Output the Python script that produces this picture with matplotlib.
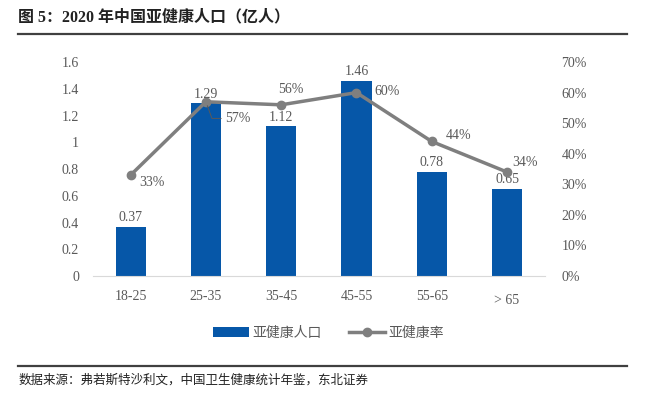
import matplotlib
matplotlib.use("Agg")
import matplotlib.pyplot as plt
import numpy as np

categories = ['18-25', '25-35', '35-45', '45-55', '55-65', '> 65']
population = [0.37, 1.29, 1.12, 1.46, 0.78, 0.65]
rate = [0.33, 0.57, 0.56, 0.60, 0.44, 0.34]
rate_labels = ['33%', '57%', '56%', '60%', '44%', '34%']
left_ticks = [0, 0.2, 0.4, 0.6, 0.8, 1, 1.2, 1.4, 1.6]
left_ticklabels = ['0', '0.2', '0.4', '0.6', '0.8', '1', '1.2', '1.4', '1.6']
right_ticks = [0, 0.1, 0.2, 0.3, 0.4, 0.5, 0.6, 0.7]

serif = ['Liberation Serif', 'Noto Sans CJK SC']
sans = ['Noto Sans CJK SC', 'DejaVu Sans']
bar_color = '#0657a8'
line_color = '#7f7f7f'
text_color = '#595959'

fig = plt.figure(figsize=(6.5, 3.94), dpi=100)
ax = fig.add_axes([0.143, 0.2995, 0.695, 0.5431])
x = np.arange(len(categories))

bars = ax.bar(x, population, width=0.4, color=bar_color, label='亚健康人口', zorder=2)
ax.set_xlim(-0.5, 5.5)
ax.set_ylim(0, 1.6)
ax.set_yticks(left_ticks)
ax.set_yticklabels(left_ticklabels, family=serif, fontsize=10, color=text_color)
ax.set_xticks(x)
ax.set_xticklabels(categories, family=serif, fontsize=10, color=text_color)
ax.tick_params(axis='both', length=0)
ax.tick_params(axis='x', pad=10)
ax.tick_params(axis='y', pad=10)
for s in ['top', 'right', 'left']:
    ax.spines[s].set_visible(False)
ax.spines['bottom'].set_color('#d9d9d9')
# the last category label sits a bit lower in the original
ax.get_xticklabels()[-1].set_y(-0.02)

for xi, v in zip(x, population):
    ax.text(xi, v + 0.02, f'{v:.2f}', ha='center', va='bottom', family=serif,
            fontsize=10, color=text_color)

ax2 = ax.twinx()
ax2.plot(x, rate, color=line_color, lw=2.5, marker='o', markersize=6,
         label='亚健康率', zorder=3)
ax2.set_ylim(0, 0.7)
ax2.set_yticks(right_ticks)
ax2.set_yticklabels([f'{int(round(t * 100))}%' for t in right_ticks], family=serif,
                    fontsize=10, color=text_color)
ax2.tick_params(axis='y', length=0, pad=12)
for s in ax2.spines.values():
    s.set_visible(False)

offsets = [(6, -5), (14, -12), (-2, 11), (13, 1), (10, 4), (4, 7)]
for i, (lab, off) in enumerate(zip(rate_labels, offsets)):
    if i == 1:
        ax2.annotate(lab, (x[i], rate[i]), xytext=off, textcoords='offset points',
                     family=serif, fontsize=10, color=text_color, ha='left', va='center',
                     arrowprops=dict(arrowstyle='-', color=text_color, lw=0.7,
                                     connectionstyle='angle,angleA=0,angleB=110,rad=0',
                                     shrinkA=1, shrinkB=3))
    else:
        ax2.annotate(lab, (x[i], rate[i]), xytext=off, textcoords='offset points',
                     family=serif, fontsize=10, color=text_color, ha='left', va='center',
                     zorder=4)

h1, l1 = ax.get_legend_handles_labels()
h2, l2 = ax2.get_legend_handles_labels()
fig.legend(h1 + h2, l1 + l2, loc='center', bbox_to_anchor=(0.505, 0.155), ncol=2,
           frameon=False, prop={'family': sans, 'size': 10}, labelcolor=text_color,
           handlelength=2.6, handletextpad=0.2, columnspacing=2.0)

fig.text(0.028, 0.955, '图 5：2020 年中国亚健康人口（亿人）', family=serif, weight='bold',
         fontsize=11.5, color='#222222', va='center')
fig.add_artist(plt.Line2D([0.028, 0.965], [0.914, 0.914], color='#404040', lw=1.6))
fig.add_artist(plt.Line2D([0.028, 0.965], [0.071, 0.071], color='#404040', lw=1.6))
fig.text(0.028, 0.035, '数据来源：弗若斯特沙利文，中国卫生健康统计年鉴，东北证券', family=sans,
         fontsize=9, color='#222222', va='center')

fig.savefig('out.png', dpi=100)
